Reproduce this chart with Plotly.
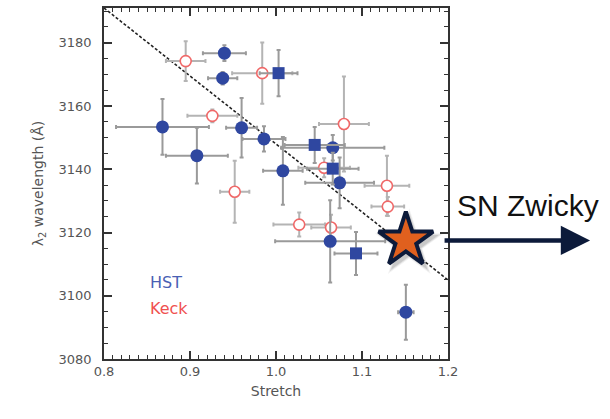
import plotly.graph_objects as go

# HST sample, circles
hst_c_stretch = [0.940, 0.938, 0.868, 0.908, 0.960, 0.986, 1.066, 1.074, 1.008, 1.063, 1.151]
hst_c_lam = [3176.7, 3168.8, 3153.4, 3144.3, 3153.1, 3149.6, 3146.8, 3135.7, 3139.5, 3117.2, 3094.8]
hst_c_xerr = [0.025, 0.017, 0.054, 0.036, 0.018, 0.025, 0.060, 0.040, 0.023, 0.064, 0.009]
hst_c_yerr = [2.5, 2.0, 8.8, 8.8, 9.4, 4.0, 4.0, 8.0, 10.7, 13.0, 8.7]

# HST sample, squares
hst_s_stretch = [1.003, 1.045, 1.066, 1.093]
hst_s_lam = [3170.4, 3147.7, 3140.2, 3113.4]
hst_s_xerr = [0.022, 0.035, 0.030, 0.025]
hst_s_yerr = [7.3, 5.7, 5.0, 6.8]

# Keck sample
keck_stretch = [0.895, 0.984, 0.926, 1.079, 1.056, 0.952, 1.129, 1.130, 1.027, 1.064]
keck_lam = [3174.2, 3170.4, 3156.9, 3154.3, 3140.5, 3132.9, 3134.8, 3128.2, 3122.5, 3121.6]
keck_xerr = [0.023, 0.035, 0.029, 0.029, 0.030, 0.017, 0.026, 0.019, 0.030, 0.023]
keck_yerr = [6.3, 9.7, 2.0, 15.0, 3.0, 9.8, 9.5, 3.0, 3.8, 4.0]

# Linear relation: lam = fit_lam0 + fit_slope * (stretch - 1)
fit_lam0 = 3148.0
fit_slope = -215.0
fit_stretch = [0.8, 1.2]
fit_lam = [fit_lam0 + fit_slope * (s - 1.0) for s in fit_stretch]

# SN Zwicky
zwicky_stretch = [1.151]
zwicky_lam = [3117.5]

x_ticks = [0.8, 0.9, 1.0, 1.1, 1.2]
x_ticktext = ["0.8", "0.9", "1.0", "1.1", "1.2"]
y_ticks = [3080, 3100, 3120, 3140, 3160, 3180]

BLUE = "#2f47a0"
RED = "#f06868"
FONT = "DejaVu Sans"

fig = go.Figure()

fig.add_trace(go.Scatter(
    x=fit_stretch, y=fit_lam, mode="lines",
    line=dict(color="#222222", width=1.6, dash="3px,2px"),
    hoverinfo="skip"))

fig.add_trace(go.Scatter(
    x=keck_stretch, y=keck_lam, mode="markers",
    error_x=dict(type="data", array=keck_xerr, color="#b4b4b4", thickness=2, width=2),
    error_y=dict(type="data", array=keck_yerr, color="#b4b4b4", thickness=2, width=2),
    marker=dict(symbol="circle", size=11, color="white", line=dict(color=RED, width=1.6))))

fig.add_trace(go.Scatter(
    x=hst_c_stretch, y=hst_c_lam, mode="markers",
    error_x=dict(type="data", array=hst_c_xerr, color="#9a9a9a", thickness=2, width=2),
    error_y=dict(type="data", array=hst_c_yerr, color="#9a9a9a", thickness=2, width=2),
    marker=dict(symbol="circle", size=13, color=BLUE, line=dict(width=0))))

fig.add_trace(go.Scatter(
    x=hst_s_stretch, y=hst_s_lam, mode="markers",
    error_x=dict(type="data", array=hst_s_xerr, color="#9a9a9a", thickness=2, width=2),
    error_y=dict(type="data", array=hst_s_yerr, color="#9a9a9a", thickness=2, width=2),
    marker=dict(symbol="square", size=12, color=BLUE, line=dict(width=0))))

# soft shadow under the star
for size, alpha in [(52, 0.05), (48, 0.08), (44, 0.10)]:
    fig.add_trace(go.Scatter(
        x=[zwicky_stretch[0] + 0.004], y=[zwicky_lam[0] - 1.3], mode="markers",
        marker=dict(symbol="star", size=size, color=f"rgba(0,0,0,{alpha})", line=dict(width=0)),
        hoverinfo="skip", cliponaxis=False))

fig.add_trace(go.Scatter(
    x=zwicky_stretch, y=zwicky_lam, mode="markers",
    marker=dict(symbol="star", size=41, color="#e0601e", line=dict(color="#0c1a3a", width=4)),
    cliponaxis=False))

axis_common = dict(
    showline=True, mirror="allticks", linecolor="#333333", linewidth=1.5,
    ticks="inside", ticklen=8, tickwidth=1.5, tickcolor="#333333",
    showgrid=False, zeroline=False,
    tickfont=dict(family=FONT, size=13, color="#555555"),
)

fig.update_xaxes(
    range=[0.8, 1.2], tickvals=x_ticks, ticktext=x_ticktext,
    minor=dict(ticks="inside", ticklen=4, tickwidth=1.2, tickcolor="#333333", dtick=0.01),
    title=dict(text="Stretch", font=dict(family=FONT, size=14, color="#555555"), standoff=8),
    **axis_common)

fig.update_yaxes(
    range=[3080, 3191], tickvals=y_ticks,
    minor=dict(ticks="inside", ticklen=4, tickwidth=1.2, tickcolor="#333333", dtick=5),
    ticklabelstandoff=8,
    title=dict(text="λ<sub>2</sub> wavelength (Å)", font=dict(family=FONT, size=14, color="#555555"),
               standoff=12),
    **axis_common)

fig.add_annotation(x=0.128, y=0.218, xref="paper", yref="paper", text="HST",
                   showarrow=False, xanchor="left", yanchor="middle",
                   font=dict(family=FONT, size=16, color="#4a5fb4"))
fig.add_annotation(x=0.128, y=0.144, xref="paper", yref="paper", text="Keck",
                   showarrow=False, xanchor="left", yanchor="middle",
                   font=dict(family=FONT, size=16, color="#f05050"))

fig.add_annotation(x=1.413, y=zwicky_lam[0], xref="paper", yref="y",
                   ax=-147, ay=0, text="", showarrow=True,
                   arrowhead=2, arrowsize=1.3, arrowwidth=4.5, arrowcolor="#0c1a3a")
fig.add_annotation(x=1.233, y=0.436, xref="paper", yref="paper", text="SN Zwicky",
                   showarrow=False, xanchor="center", yanchor="middle",
                   font=dict(family="Liberation Sans", size=30, color="#111111"))

fig.update_layout(
    width=610, height=419,
    margin=dict(l=104, r=162, t=6, b=60),
    paper_bgcolor="white", plot_bgcolor="white",
    showlegend=False,
)

fig.write_html("out.html")
